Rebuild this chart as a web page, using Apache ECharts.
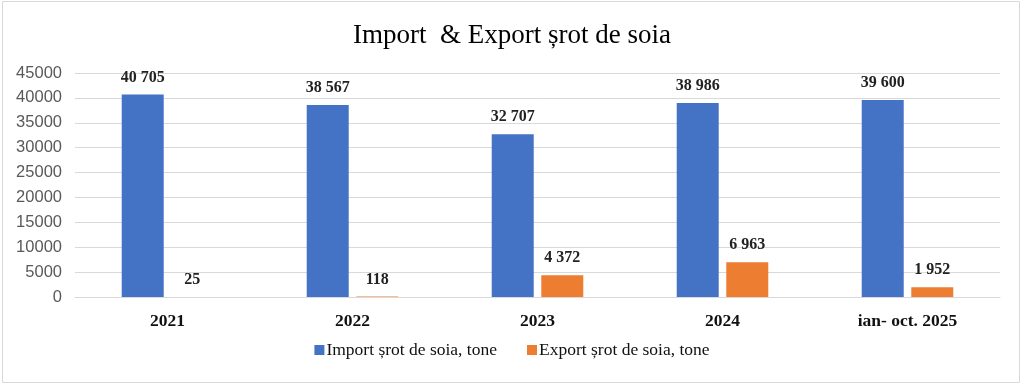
<!DOCTYPE html>
<html><head><meta charset="utf-8">
<script src="https://cdn.jsdelivr.net/npm/echarts@6/dist/echarts.min.js"></script>
<style>html,body{margin:0;padding:0;background:#fff}#c{width:1024px;height:386px}</style>
</head><body><div id="c"></div>
<script>
const categories = ['2021', '2022', '2023', '2024', 'ian- oct. 2025'];
const importValues = [40705, 38567, 32707, 38986, 39600];
const exportValues = [25, 118, 4372, 6963, 1952];
const seriesNames = ['Import șrot de soia, tone', 'Export șrot de soia, tone'];
const yTicks = { min: 0, max: 45000, interval: 5000 };

const fmt = v => String(v).replace(/\B(?=(\d{3})+(?!\d))/g, ' ');
const chart = echarts.init(document.getElementById('c'), null, { renderer: 'canvas' });
const labelStyle = {
  show: true, position: 'top', distance: 9,
  fontFamily: 'Liberation Serif', fontWeight: 'bold', fontSize: 16, color: '#222',
  formatter: p => fmt(p.value)
};
chart.setOption({
  animation: false,
  backgroundColor: '#fff',
  title: {
    text: 'Import  & Export șrot de soia', left: 'center', top: 17,
    textStyle: { fontFamily: 'Liberation Serif', fontWeight: 'normal', fontSize: 27, color: '#000' }
  },
  graphic: [{ type: 'rect', shape: { x: 2.5, y: 1.5, width: 1017, height: 381 },
    style: { fill: null, stroke: '#d9d9d9', lineWidth: 1 } }],
  legend: {
    data: seriesNames, bottom: 22, left: 'center', itemWidth: 10, itemHeight: 10, itemGap: 30,
    icon: 'rect',
    textStyle: { fontFamily: 'Liberation Serif', fontSize: 17.5, color: '#111', padding: [0, 0, 0, -3] }
  },
  grid: { left: 75, right: 24, top: 73, bottom: 89 },
  xAxis: {
    type: 'category', data: categories,
    axisLine: { lineStyle: { color: '#d9d9d9' } }, axisTick: { show: false },
    axisLabel: { margin: 15, fontFamily: 'Liberation Serif', fontWeight: 'bold', fontSize: 17.5, color: '#111' }
  },
  yAxis: {
    type: 'value', min: yTicks.min, max: yTicks.max, interval: yTicks.interval,
    axisLine: { show: false }, axisTick: { show: false },
    splitLine: { lineStyle: { color: '#d9d9d9' } },
    axisLabel: { margin: 13, fontFamily: 'Liberation Sans', fontSize: 16.5, color: '#595959', formatter: v => String(v) }
  },
  series: [
    { name: seriesNames[0], type: 'bar', data: importValues, barWidth: 42, barGap: '18%',
      itemStyle: { color: '#4472c4' }, label: labelStyle },
    { name: seriesNames[1], type: 'bar', data: exportValues, barWidth: 42,
      itemStyle: { color: '#ed7d31' }, label: labelStyle }
  ]
});
</script></body></html>
